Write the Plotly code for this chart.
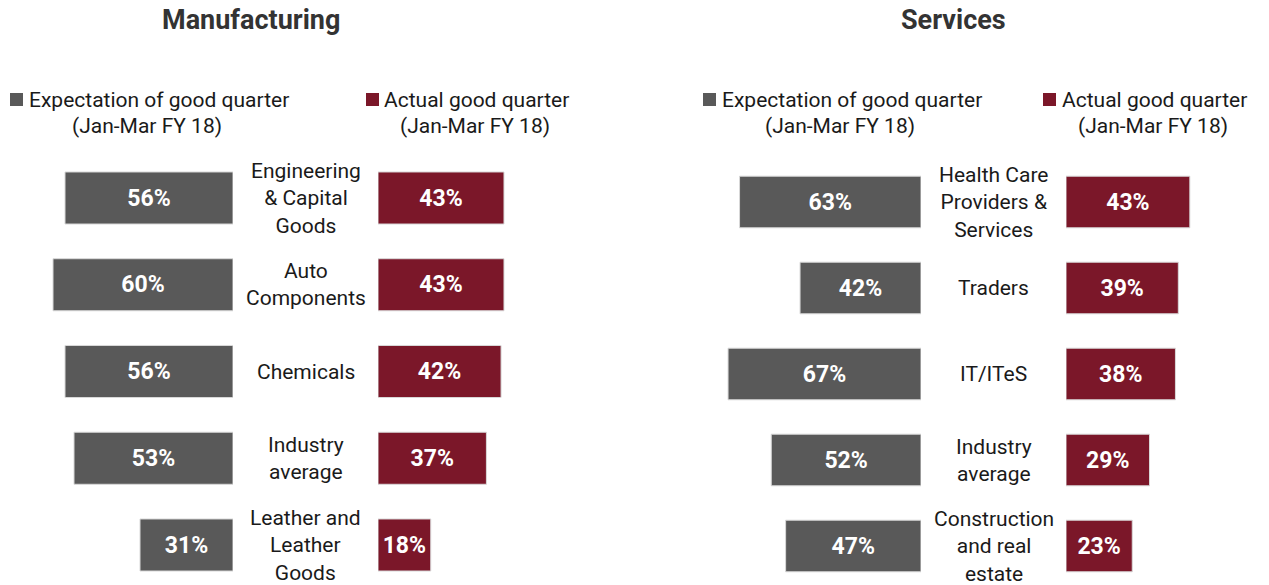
import plotly.graph_objects as go

W, H = 1269, 585

mfg_categories = ["Engineering<br>& Capital<br>Goods", "Auto<br>Components", "Chemicals",
                  "Industry<br>average", "Leather and<br>Leather<br>Goods"]
mfg_expected = [56, 60, 56, 53, 31]
mfg_actual = [43, 43, 42, 37, 18]

svc_categories = ["Health Care<br>Providers &<br>Services", "Traders", "IT/ITeS",
                  "Industry<br>average", "Construction<br>and real<br>estate"]
svc_expected = [63, 42, 67, 52, 47]
svc_actual = [43, 39, 38, 29, 23]

titles = ["Manufacturing", "Services"]
legend_names = ["Expectation of good quarter", "Actual good quarter"]
legend_sub = "(Jan-Mar FY 18)"

GRAY = "#595959"
MAROON = "#7B1729"
FONT = "Roboto, Arial, sans-serif"
TXT = "#1a1a1a"

fig = go.Figure()

def px_dom(x0, x1):
    return [max(0, x0 / W), min(1, x1 / W)]

def add_bars(vals, color, xa, ya):
    idx = list(range(len(vals)))
    fig.add_trace(go.Bar(
        x=vals, y=idx, orientation="h", xaxis=xa, yaxis=ya,
        marker=dict(color=color, line=dict(color="#d9d9d9", width=1)),
        width=0.6,
        text=[f"{v}%" for v in vals], textposition="inside", insidetextanchor="middle",
        textfont=dict(color="white", size=23, family=FONT, weight="bold"),
        showlegend=False, hoverinfo="skip", cliponaxis=False,
    ))

add_bars(mfg_expected, GRAY, "x", "y")
add_bars(mfg_actual, MAROON, "x2", "y")
add_bars(svc_expected, GRAY, "x3", "y2")
add_bars(svc_actual, MAROON, "x4", "y2")

ax_common = dict(visible=False, showgrid=False, zeroline=False, fixedrange=True)

fig.update_layout(
    xaxis=dict(domain=px_dom(233 - 70 * 3.0, 233), range=[70, 0], anchor="y", **ax_common),
    xaxis2=dict(domain=px_dom(378, 378 + 70 * 2.93), range=[0, 70], anchor="y", **ax_common),
    xaxis3=dict(domain=px_dom(921 - 80 * 2.88, 921), range=[80, 0], anchor="y2", **ax_common),
    xaxis4=dict(domain=px_dom(1066, 1066 + 70 * 2.88), range=[0, 70], anchor="y2", **ax_common),
)

def ydom(c0, c4):
    sp = (c4 - c0) / 4
    top_px = c0 - 0.5 * sp
    bot_idx = 4 + (H - c4) / sp
    return [0, (H - top_px) / H], [bot_idx, -0.5]

d1, r1 = ydom(198, 545)
d2, r2 = ydom(202, 546)
fig.update_layout(
    yaxis=dict(domain=d1, range=r1, **ax_common),
    yaxis2=dict(domain=d2, range=r2, **ax_common),
)

annotations = []
for i, c in enumerate(mfg_categories):
    annotations.append(dict(x=305.5 / W, xref="paper", y=i, yref="y", text=c, showarrow=False,
                            xanchor="center", yanchor="middle",
                            font=dict(size=21, color=TXT, family=FONT), align="center"))
for i, c in enumerate(svc_categories):
    annotations.append(dict(x=993.5 / W, xref="paper", y=i, yref="y2", text=c, showarrow=False,
                            xanchor="center", yanchor="middle",
                            font=dict(size=21, color=TXT, family=FONT), align="center"))

for t, cx in zip(titles, [251, 953]):
    annotations.append(dict(x=cx / W, xref="paper", y=1 - 20 / H, yref="paper", text=f"<b>{t}</b>",
                            showarrow=False, font=dict(size=27, color="#333333", family=FONT),
                            xanchor="center", yanchor="middle"))

shapes = []
legend_specs = [
    (10, 27, 147, GRAY, legend_names[0]),
    (366, 382, 475, MAROON, legend_names[1]),
    (703, 720, 840, GRAY, legend_names[0]),
    (1043, 1060, 1153, MAROON, legend_names[1]),
]
for sq_x, tx, sub_cx, col, name in legend_specs:
    shapes.append(dict(type="rect", xref="paper", yref="paper",
                       x0=sq_x / W, x1=(sq_x + 13) / W,
                       y0=1 - 106 / H, y1=1 - 93 / H,
                       fillcolor=col, line=dict(width=0)))
    annotations.append(dict(x=tx / W, xref="paper", y=1 - 100 / H, yref="paper", text=name,
                            showarrow=False, xanchor="left", yanchor="middle",
                            font=dict(size=21, color=TXT, family=FONT)))
    annotations.append(dict(x=sub_cx / W, xref="paper", y=1 - 126 / H, yref="paper", text=legend_sub,
                            showarrow=False, xanchor="center", yanchor="middle",
                            font=dict(size=21, color=TXT, family=FONT)))

fig.update_layout(
    width=W, height=H,
    margin=dict(l=0, r=0, t=0, b=0),
    paper_bgcolor="white", plot_bgcolor="white",
    barmode="overlay",
    annotations=annotations, shapes=shapes,
    uniformtext=dict(mode="show", minsize=10),
)

fig.write_html("out.html", config={"displayModeBar": False},
               post_script="document.body.style.margin='0';document.body.style.overflow='hidden';")
